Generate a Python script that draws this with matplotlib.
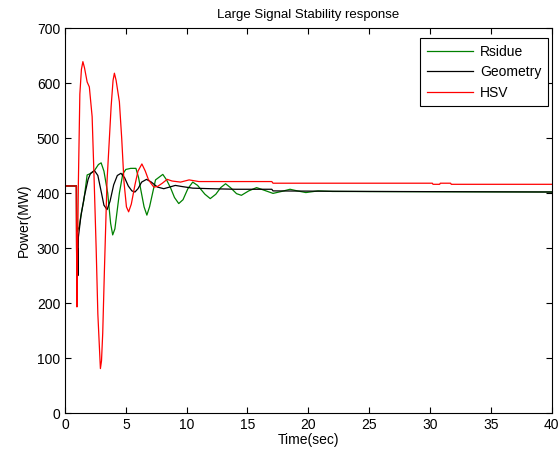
import numpy as np
import matplotlib
matplotlib.use('Agg')
import matplotlib.pyplot as plt

plt.rcParams['font.family'] = ['Liberation Sans', 'DejaVu Sans']

# Rsidue (green)
t_res = [0, 0.95, 1.0, 1.17, 1.35, 1.55, 1.82, 2.15, 2.45, 2.75, 2.97, 3.2, 3.51, 3.75, 3.92,
         4.1, 4.47, 4.75, 5.0, 5.4, 5.83, 6.05, 6.24, 6.5, 6.73, 6.95, 7.2, 7.44, 8.04, 8.35,
         8.67, 9.0, 9.35, 9.7, 10.1, 10.5, 10.9, 11.5, 11.94, 12.4, 12.8, 13.2, 13.6, 14.1,
         14.5, 15.1, 15.75, 16.4, 17.1, 17.8, 18.5, 19.1, 19.8, 20.8, 22, 40]
p_res = [413, 413, 330, 339, 365, 387, 433, 436, 442, 452, 455, 440, 400, 345, 324,
         335, 400, 435, 443, 445, 445, 428, 405, 375, 360, 375, 400, 424, 434, 424,
         410, 392, 381, 388, 408, 420, 414, 398, 390, 398, 410, 417, 410, 399,
         396, 404, 410, 405, 399.5, 403, 407, 404, 401, 404, 403, 402]

# Geometry (black)
t_geo = [0, 0.93, 0.95, 1.0, 1.03, 1.06, 1.1, 1.3, 1.58, 1.9, 2.1, 2.42, 2.7, 3.0, 3.2, 3.46,
         3.7, 4.0, 4.3, 4.6, 4.9, 5.2, 5.5, 5.75, 6.0, 6.3, 6.7, 7.1, 7.6, 8.12, 8.6, 9.07,
         9.6, 10.5, 12, 14, 17, 17.1, 25, 40]
p_geo = [413, 413, 300, 210, 300, 250, 320, 357, 393, 425, 436, 441, 432, 400, 378, 370,
         385, 415, 432, 436, 428, 413, 404, 402, 408, 420, 425, 420, 411, 408, 411, 414,
         412, 409, 408, 407, 407, 404, 403, 402]

# HSV (red)
t_hsv = [0, 0.92, 0.95, 0.98, 1.1, 1.22, 1.35, 1.47, 1.6, 1.82, 2.0, 2.23, 2.4, 2.56, 2.7,
         2.91, 3.0, 3.1, 3.24, 3.45, 3.65, 3.79, 3.95, 4.06, 4.2, 4.47, 4.66, 4.85, 5.05,
         5.23, 5.45, 5.75, 6.0, 6.32, 6.6, 6.85, 7.06, 7.3, 7.6, 8.0, 8.4, 8.8, 9.5, 10.2,
         11.0, 17.0, 17.1, 30.2, 30.25, 30.8, 30.85, 31.7, 31.75, 40]
p_hsv = [413, 413, 300, 193, 420, 580, 625, 639, 628, 602, 593, 539, 420, 300, 180,
         81, 95, 145, 260, 420, 500, 557, 605, 618, 605, 566, 500, 420, 375,
         366, 380, 415, 440, 453, 440, 425, 418, 411, 412, 418, 425, 422, 420, 424,
         421, 421, 418, 418, 416, 416, 418, 418, 416, 416]

x_ticks = np.arange(0, 41, 5)
y_ticks = np.arange(0, 701, 100)

fig = plt.figure(figsize=(5.58, 4.53), dpi=100)
ax = fig.add_axes([0.1165, 0.088, 0.872, 0.85])

ax.plot(t_res, p_res, color=(0, 0.5, 0), lw=0.9, label='Rsidue')
ax.plot(t_geo, p_geo, color='black', lw=0.9, label='Geometry')
ax.plot(t_hsv, p_hsv, color='red', lw=0.9, label='HSV')

ax.set_xlim(0, 40)
ax.set_ylim(0, 700)
ax.set_xticks(x_ticks)
ax.set_yticks(y_ticks)
ax.tick_params(direction='in', top=True, right=True, labelsize=10, length=4, width=0.8)
for s in ax.spines.values():
    s.set_linewidth(0.8)

ax.set_title('Large Signal Stability response', fontsize=9.5, pad=7)
ax.set_xlabel('Time(sec)', fontsize=10, labelpad=1)
ax.set_ylabel('Power(MW)', fontsize=10, labelpad=4)

leg = ax.legend(loc='upper right', bbox_to_anchor=(0.993, 0.974), fontsize=10,
                fancybox=False, edgecolor='black', framealpha=1, handlelength=3.3,
                borderaxespad=0, labelspacing=0.45, handletextpad=0.5, borderpad=0.5)
leg.get_frame().set_linewidth(0.8)

fig.savefig('out.png', dpi=100)
